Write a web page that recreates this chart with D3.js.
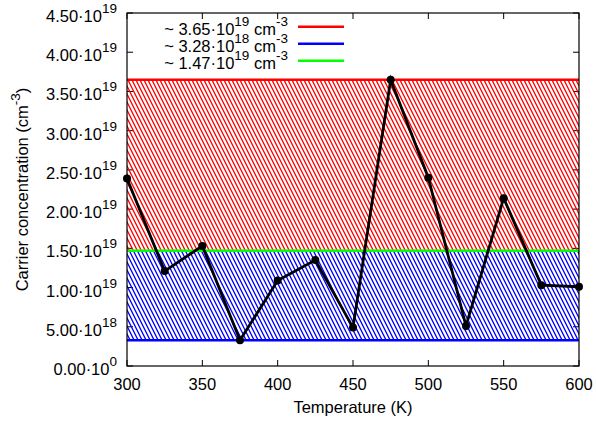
<html>
<head>
    <script src="https://cdnjs.cloudflare.com/ajax/libs/d3/7.8.5/d3.min.js"></script>
    <style>
        body { margin: 0; background: white; }
        text { font-family: "Liberation Sans", Arial, Helvetica, sans-serif; fill: #000; }
    </style>
</head>
<body>
    <script>

// data
var temps = [300, 325, 350, 375, 400, 425, 450, 475, 500, 525, 550, 575, 600];
var conc = [2.39e19, 1.21e19, 1.53e19, 3.28e18, 1.09e19, 1.35e19, 4.9e18,
            3.65e19, 2.40e19, 5.1e18, 2.14e19, 1.03e19, 1.01e19];

// reference levels: max, min, mean
var levels = [3.65e19, 3.28e18, 1.47e19];
var levelColors = ["#ff0000", "#0000ff", "#00ff00"];
var levelMant = ["3.65", "3.28", "1.47"];
var levelExp = ["19", "18", "19"];

var yTicks = [0, 5e18, 1e19, 1.5e19, 2e19, 2.5e19, 3e19, 3.5e19, 4e19, 4.5e19];
var yTickMant = ["0.00", "5.00", "1.00", "1.50", "2.00", "2.50", "3.00", "3.50", "4.00", "4.50"];
var yTickExp = ["0", "18", "19", "19", "19", "19", "19", "19", "19", "19"];
var xTicks = [300, 350, 400, 450, 500, 550, 600];

var W = 596, H = 422;
var pLeft = 127, pRight = 579, pTop = 13, pBottom = 366;
var fs = "16.5px", fsSup = "13.5px";

var svg = d3.select("body").append("svg")
    .attr("width", W)
    .attr("height", H);

var x = d3.scaleLinear().domain([300, 600]).range([pLeft, pRight]);
var y = d3.scaleLinear().domain([0, 4.5e19]).range([pBottom, pTop]);

// hatch patterns
var defs = svg.append("defs");
function hatch(id, color) {
    var p = defs.append("pattern")
        .attr("id", id)
        .attr("patternUnits", "userSpaceOnUse")
        .attr("width", 4)
        .attr("height", 8);
    p.append("path")
        .attr("d", "M-2,-4 L6,12 M-6,-4 L2,12 M2,-4 L10,12")
        .attr("stroke", color)
        .attr("stroke-width", 1.3)
        .attr("fill", "none");
}
hatch("hatchRed", "#ff0000");
hatch("hatchBlue", "#0000ff");

// ticks (drawn first, the fills cover them)
var tickLen = 6;
var tg = svg.append("g").attr("stroke", "#000").attr("stroke-width", 1);
yTicks.forEach(function (v) {
    tg.append("line").attr("x1", pLeft).attr("x2", pLeft + tickLen).attr("y1", y(v)).attr("y2", y(v));
    tg.append("line").attr("x1", pRight).attr("x2", pRight - tickLen).attr("y1", y(v)).attr("y2", y(v));
});
xTicks.forEach(function (v) {
    tg.append("line").attr("x1", x(v)).attr("x2", x(v)).attr("y1", pBottom).attr("y2", pBottom - tickLen);
    tg.append("line").attr("x1", x(v)).attr("x2", x(v)).attr("y1", pTop).attr("y2", pTop + tickLen);
});

// hatched bands
svg.append("rect")
    .attr("x", x(300)).attr("width", x(600) - x(300))
    .attr("y", y(levels[0])).attr("height", y(levels[2]) - y(levels[0]))
    .attr("fill", "url(#hatchRed)");
svg.append("rect")
    .attr("x", x(300)).attr("width", x(600) - x(300))
    .attr("y", y(levels[2])).attr("height", y(levels[1]) - y(levels[2]))
    .attr("fill", "url(#hatchBlue)");

// level lines
levels.forEach(function (v, i) {
    svg.append("line")
        .attr("x1", x(300)).attr("x2", x(600))
        .attr("y1", y(v)).attr("y2", y(v))
        .attr("stroke", levelColors[i])
        .attr("stroke-width", 2.5);
});

// border
svg.append("rect")
    .attr("x", pLeft).attr("y", pTop)
    .attr("width", pRight - pLeft).attr("height", pBottom - pTop)
    .attr("fill", "none")
    .attr("stroke", "#000")
    .attr("stroke-width", 1.2);

// data
var line = d3.line()
    .x(function (d, i) { return x(temps[i]); })
    .y(function (d) { return y(d); });

svg.append("path")
    .datum(conc)
    .attr("fill", "none")
    .attr("stroke", "#000")
    .attr("stroke-width", 2.8)
    .attr("d", line);

svg.selectAll(".pt")
    .data(conc)
    .enter()
    .append("circle")
    .attr("class", "pt")
    .attr("cx", function (d, i) { return x(temps[i]); })
    .attr("cy", function (d) { return y(d); })
    .attr("r", 4)
    .attr("fill", "#000");

// y tick labels
yTicks.forEach(function (v, i) {
    var t = svg.append("text")
        .attr("x", pLeft - 10)
        .attr("y", y(v) + 9)
        .attr("text-anchor", "end")
        .style("font-size", fs);
    t.append("tspan").text(yTickMant[i] + "\u00b710");
    t.append("tspan").attr("dy", -9).style("font-size", fsSup).text(yTickExp[i]);
});

// x tick labels
xTicks.forEach(function (v) {
    svg.append("text")
        .attr("x", x(v))
        .attr("y", 390)
        .attr("text-anchor", "middle")
        .style("font-size", fs)
        .text(v);
});

// axis titles
svg.append("text")
    .attr("x", (pLeft + pRight) / 2)
    .attr("y", 413)
    .attr("text-anchor", "middle")
    .style("font-size", fs)
    .text("Temperature (K)");

var yl = svg.append("text")
    .attr("transform", "translate(28," + ((pTop + pBottom) / 2) + ") rotate(-90)")
    .attr("text-anchor", "middle")
    .style("font-size", fs);
yl.append("tspan").text("Carrier concentration (cm");
yl.append("tspan").attr("dy", -8).style("font-size", fsSup).text("-3");
yl.append("tspan").attr("dy", 8).text(")");

// legend
var legTop = 26.7, legStep = 17;
levels.forEach(function (v, i) {
    var ly = legTop + i * legStep;
    var t = svg.append("text")
        .attr("x", 288)
        .attr("y", ly + 8.5)
        .attr("text-anchor", "end")
        .style("font-size", fs);
    t.append("tspan").text("~ " + levelMant[i] + "\u00b710");
    t.append("tspan").attr("dy", -9).style("font-size", fsSup).text(levelExp[i]);
    t.append("tspan").attr("dy", 9).text(" cm");
    t.append("tspan").attr("dy", -9).style("font-size", fsSup).text("-3");
    svg.append("line")
        .attr("x1", 298).attr("x2", 344)
        .attr("y1", ly).attr("y2", ly)
        .attr("stroke", levelColors[i])
        .attr("stroke-width", 2.5);
});

    </script>
</body>
</html>
